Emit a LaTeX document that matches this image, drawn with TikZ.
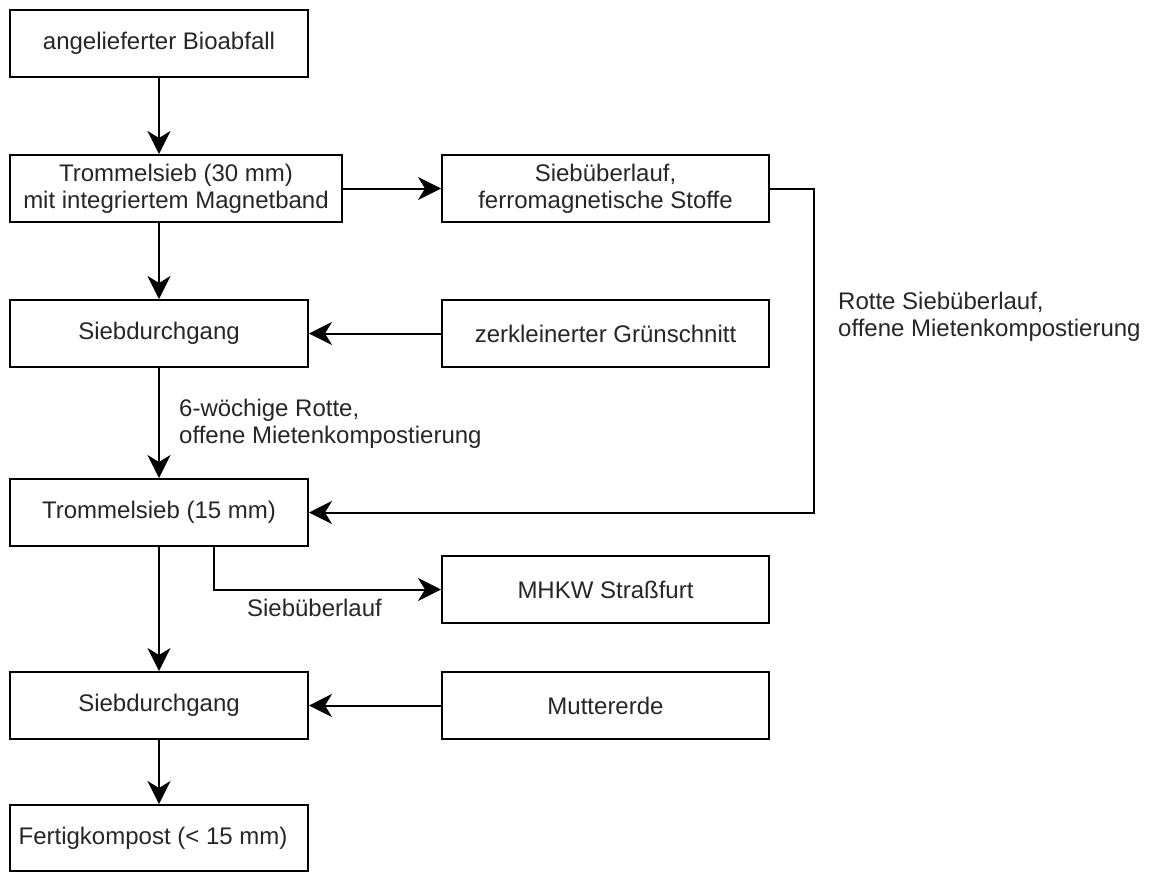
\documentclass[tikz,border=0pt]{standalone}
\usepackage{fontspec}
\setmainfont{Liberation Sans}
\usetikzlibrary{arrows.meta,positioning,calc}
\begin{document}
\begin{tikzpicture}[x=1pt,y=-1pt,
  font=\fontsize{24}{27}\selectfont,
  box/.style={draw, line width=2pt, minimum height=67pt, inner sep=0pt, align=center, text=black!85},
  leftbox/.style={box, minimum width=298pt},
  rightbox/.style={box, minimum width=327pt},
  conn/.style={line width=2pt, -{Stealth[length=23pt,width=23pt,inset=7pt]}},
  lbl/.style={align=left, inner sep=0pt, text=black!85}]
\useasboundingbox (0,0) rectangle (1150,872);
\node[leftbox] (b1) at (159,43.5) {angelieferter Bioabfall};
\node[box, minimum width=332pt] (b2) at (176,188.5) {Trommelsieb (30 mm)\\mit integriertem Magnetband};
\node[leftbox] (b3) at (159,333.5) {Siebdurchgang};
\node[leftbox] (b4) at (159,512.5) {Trommelsieb (15 mm)};
\node[leftbox] (b5) at (159,705.5) {Siebdurchgang};
\node[leftbox, minimum height=66pt] (b6) at (159,838) {Fertigkompost (< 15 mm)\hspace{12pt}};
\node[rightbox] (r1) at (605.5,188.5) {Siebüberlauf,\\ferromagnetische Stoffe};
\node[rightbox] (r2) at (605.5,333.5) {zerkleinerter Grünschnitt};
\node[rightbox] (r3) at (605.5,589.5) {MHKW Straßfurt};
\node[rightbox] (r4) at (605.5,705.5) {Muttererde};
\coordinate (c1) at (814,188.5);
\coordinate (c2) at (814,512.5);
\coordinate (c3) at (214,546);
\draw[conn] (b1.south) -- (b1.south |- b2.north);
\draw[conn] (b3.north |- b2.south) -- (b3.north);
\draw[conn] (b2.east) -- (r1.west);
\draw[conn] (r2.west) -- (b3.east);
\draw[conn] (b3.south) -- (b4.north);
\draw[conn] (r1.east) -- (c1) -- (c2) -- (b4.east);
\draw[conn] (c3) |- (r3.west);
\draw[conn] (b4.south) -- (b5.north);
\draw[conn] (r4.west) -- (b5.east);
\draw[conn] (b5.south) -- (b6.north);
\node[lbl, anchor=west] (l1) at (179,423.5) {6-wöchige Rotte,\\offene Mietenkompostierung};
\node[lbl, anchor=west] (l2) at (838,316.5) {Rotte Siebüberlauf,\\offene Mietenkompostierung};
\node[lbl] (l3) at (314.5,608) {Siebüberlauf};
\end{tikzpicture}
\end{document}
